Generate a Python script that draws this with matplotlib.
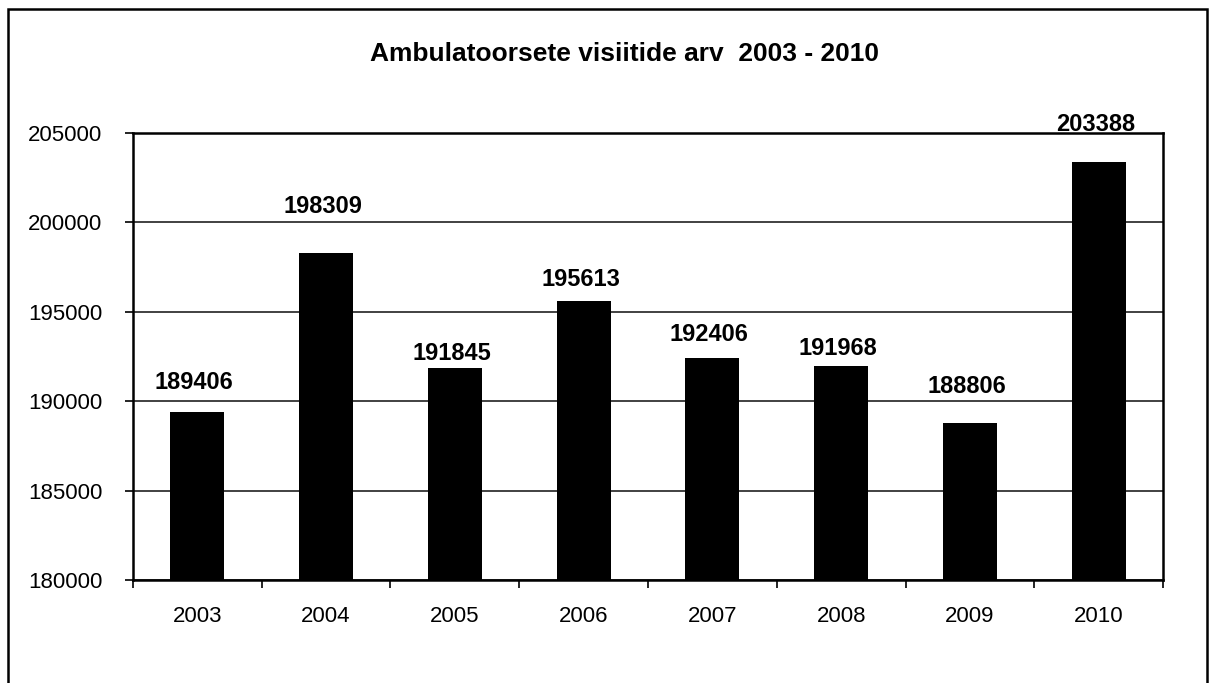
import matplotlib
matplotlib.use("Agg")
import matplotlib.pyplot as plt
from matplotlib.patches import Rectangle

years = ["2003", "2004", "2005", "2006", "2007", "2008", "2009", "2010"]
visits = [189406, 198309, 191845, 195613, 192406, 191968, 188806, 203388]
y_ticks = [180000, 185000, 190000, 195000, 200000, 205000]

# labels were placed by hand in the original, so the gap above each bar differs (pixels)
label_gap = [23, 40, 8, 15, 17, 11, 30, 31]

plt.rcParams['font.family'] = ['Liberation Sans', 'DejaVu Sans']

fig = plt.figure(figsize=(12.1, 6.83), dpi=100)
ax = fig.add_axes([0.1099, 0.1508, 0.8513, 0.6545])

x = list(range(len(years)))
ax.bar(x, visits, width=0.42, color="black", zorder=3)
ax.set_ylim(180000, 205000)
ax.set_xlim(-0.5, len(years) - 0.5)

ax.set_yticks(y_ticks)
ax.set_yticklabels([str(v) for v in y_ticks], fontsize=16)
ax.yaxis.grid(True, color="#333333", linewidth=1.3, zorder=0)

# ticks sit between the categories, labels at the bar centers
ax.set_xticks([i - 0.5 for i in range(len(years) + 1)])
ax.set_xticklabels([])
ax.set_xticks(x, minor=True)
ax.set_xticklabels(years, minor=True, fontsize=16)
ax.tick_params(axis="x", which="minor", length=0, pad=19)
ax.tick_params(axis="x", which="major", length=6, width=1.2, direction="out")
ax.tick_params(axis="y", length=6, width=1.2, direction="out", pad=16)

for s in ax.spines.values():
    s.set_linewidth(1.8)
    s.set_color("black")

for xi, v, gap in zip(x, visits, label_gap):
    ax.annotate(str(v), (xi, v), xytext=(-3, gap), textcoords="offset pixels",
                ha="center", va="baseline", fontsize=17, fontweight="bold",
                annotation_clip=False)

fig.text(625 / 1210, 1 - 61 / 683, "Ambulatoorsete visiitide arv  2003 - 2010",
         ha="center", va="baseline", fontsize=19, fontweight="bold")

# outer chart frame, its bottom edge runs off the page
frame = Rectangle((8 / 1210, -0.1), (1207 - 8) / 1210, 1.1 - 9 / 683,
                  transform=fig.transFigure, fill=False, edgecolor="black",
                  linewidth=1.8, clip_on=False)
fig.patches.append(frame)

fig.savefig("out.png", dpi=100, facecolor="white")
